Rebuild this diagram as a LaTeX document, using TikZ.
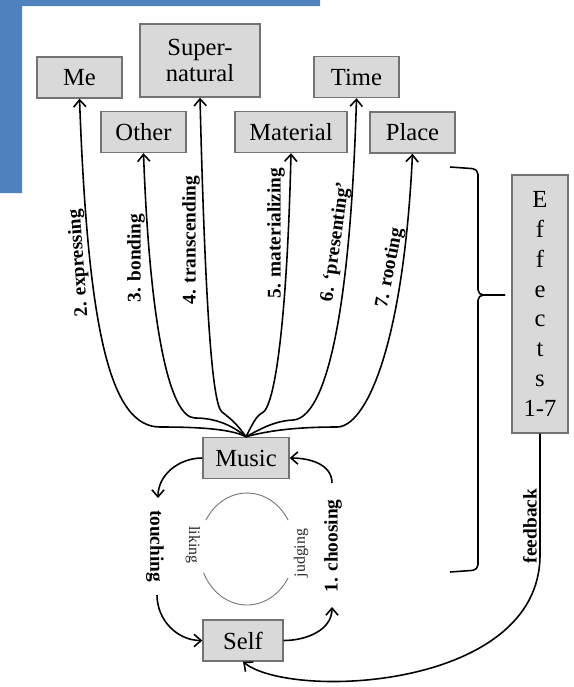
\documentclass[tikz,border=0pt]{standalone}
\usepackage{fontspec}
\setmainfont{Liberation Serif}
\usetikzlibrary{arrows.meta}
\definecolor{boxgray}{RGB}{217,217,217}
\definecolor{boxline}{RGB}{115,115,115}
\definecolor{wordblue}{RGB}{79,129,189}

\begin{document}
\begin{tikzpicture}[x=0.02cm, y=0.02cm,
  box/.style={draw=boxline, fill=boxgray, line width=0.8pt, minimum width=1.7cm,
    minimum height=0.82cm, inner sep=0pt, font=\fontsize{14}{15}\selectfont},
  lab/.style={font=\fontsize{11}{13}\selectfont\bfseries, inner sep=1pt},
  thin lab/.style={font=\fontsize{9}{10}\selectfont, inner sep=1pt, text=black!85},
  arr/.style={line width=0.9pt, -{Straight Barb[length=4pt,width=7pt]}},
  ring/.style={draw=black!55, line width=0.5pt}]

\useasboundingbox (0,0) rectangle (574,-687);
\fill[wordblue] (0,0) -- (320,0) -- (320,-6) -- (22,-6) -- (22,-193) -- (0,-193) -- cycle;

\node[box] (me) at (79.5, -77.5) {Me};
\node[box, minimum width=2.4cm, minimum height=1.46cm, align=center] (super) at (200, -60.5) {Super-\\natural};
\node[box] (other) at (143.5, -132) {Other};
\node[box, minimum width=2.24cm] (material) at (291, -132) {Material};
\node[box] (time) at (356.5, -77) {Time};
\node[box] (place) at (412.5, -132.5) {Place};
\node[box, minimum width=1.72cm] (music) at (246, -458) {Music};
\node[box, minimum width=1.6cm] (self) at (243, -640.5) {Self};
\node[box, minimum width=1.12cm, minimum height=5.16cm, align=center,
  font=\fontsize{14}{17}\selectfont] (effects) at (540, -304) {E\\f\\f\\e\\c\\t\\s\\1-7};

\draw[arr] (music.north) .. controls (230,-428) and (190,-427) .. (160,-427)
  .. controls (110,-427) and (88,-330) .. (me.south);
\draw[arr] (music.north) .. controls (232,-425) and (215,-418) .. (195,-418)
  .. controls (170,-418) and (150,-330) .. (other.south);
\draw[arr] (music.north) .. controls (238,-425) and (230,-418) .. (222,-412)
  .. controls (212,-405) and (205,-300) .. (super.south);
\draw[arr] (music.north) .. controls (252,-425) and (256,-416) .. (262,-413)
  .. controls (275,-408) and (287,-320) .. (material.south);
\draw[arr] (music.north) .. controls (262,-428) and (275,-421) .. (293,-420)
  .. controls (325,-418) and (350,-320) .. (time.south);
\draw[arr] (music.north) .. controls (270,-430) and (300,-427) .. (337,-427)
  .. controls (365,-427) and (403,-350) .. (place.south);

\node[lab, rotate=94] (expressing) at (79, -263) {2. expressing};
\node[lab, rotate=90] (bonding) at (136, -258) {3. bonding};
\node[lab, rotate=90] (transcending) at (191, -240) {4. transcending};
\node[lab, rotate=90] (materializing) at (276, -233) {5. materializing};
\node[lab, rotate=82] (presenting) at (336, -242) {6. ‘presenting’};
\node[lab, rotate=79] (rooting) at (390, -268) {7. rooting};

\coordinate (t1) at (158, -498);
\coordinate (t2) at (157, -595);
\coordinate (c1) at (332, -607);
\coordinate (c2) at (332, -483);
\draw[arr] (music.west) to[out=180, in=90] (t1);
\draw[arr] (t2) to[out=-90, in=180] (self.west);
\draw[arr] (self.east) to[out=0, in=-90] (c1);
\draw[arr] (c2) to[out=90, in=0] (music.east);

\node[lab, rotate=-90] (touching) at (155, -546) {touching};
\node[lab, rotate=90] (choosing) at (333, -546) {1. choosing};

\coordinate (ring) at (247, -549);
\draw[ring] (ring) ++(31:48 and 56) arc[start angle=31, end angle=149, x radius=48, y radius=56];
\draw[ring] (ring) ++(205:48 and 56) arc[start angle=205, end angle=329, x radius=48, y radius=56];
\node[thin lab, rotate=-90] (liking) at (193, -545) {liking};
\node[thin lab, rotate=90] (judging) at (301, -553) {judging};

\coordinate (btip) at (505, -295);
\draw[line width=0.9pt, rounded corners=3pt] (450,-167) -- (478,-169) -- (478,-295) -- (btip);
\draw[line width=0.9pt, rounded corners=3pt] (450,-572) -- (478,-570) -- (478,-295) -- (btip);

\coordinate (fb) at (540, -555);
\draw[arr] (effects.south) -- (fb) .. controls (540,-690) and (290,-700) .. (self.south);
\node[lab, rotate=90] (feedback) at (530, -526) {feedback};

\end{tikzpicture}
\end{document}
